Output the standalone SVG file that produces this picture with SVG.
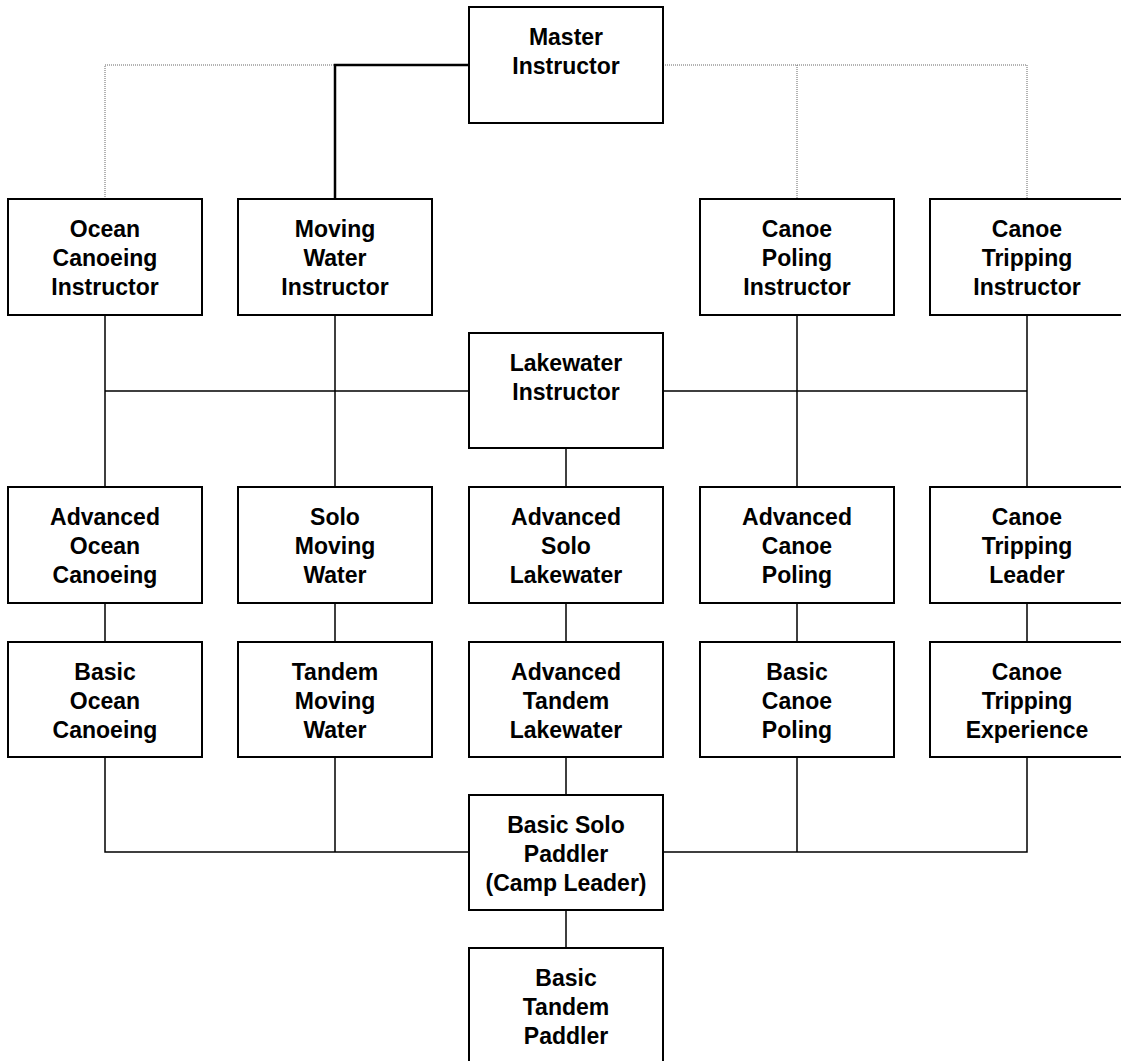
<svg xmlns="http://www.w3.org/2000/svg" width="1121" height="1061" viewBox="0 0 1121 1061">
<style>
.box{fill:#fff;stroke:#000;stroke-width:2}
.t{font-family:"Liberation Sans",Arial,sans-serif;font-weight:bold;font-size:23px;fill:#000;text-anchor:middle}
.c{fill:none;stroke:#000;stroke-width:1.5}
.thick{fill:none;stroke:#000;stroke-width:2.5}
.dot{fill:none;stroke:#666;stroke-width:1;stroke-dasharray:1 1}
</style>
<rect width="1121" height="1061" fill="#fff"/>
<g id="connectors">
<path class="dot" d="M105,199 V65 H469"/>
<path class="dot" d="M663,65 H1027 V199 M797,65 V199"/>
<path class="thick" d="M469,65 H335 V199"/>
<path class="c" d="M105,315 V487 M335,315 V487 M797,315 V487 M1027,315 V487"/>
<path class="c" d="M105,391 H469 M663,391 H1027"/>
<path class="c" d="M566,448 V487"/>
<path class="c" d="M105,603 V642 M335,603 V642 M566,603 V642 M797,603 V642 M1027,603 V642"/>
<path class="c" d="M105,757 V852 H469 M335,757 V852 M663,852 H1027 V757 M797,757 V852"/>
<path class="c" d="M566,757 V795 M566,910 V948"/>
</g>
<g id="master"><rect class="box" x="469" y="7" width="194" height="116"/><text class="t" x="566" y="45">Master</text><text class="t" x="566" y="74">Instructor</text></g>
<g id="ocean-instr"><rect class="box" x="8" y="199" width="194" height="116"/><text class="t" x="105" y="237">Ocean</text><text class="t" x="105" y="266">Canoeing</text><text class="t" x="105" y="295">Instructor</text></g>
<g id="moving-instr"><rect class="box" x="238" y="199" width="194" height="116"/><text class="t" x="335" y="237">Moving</text><text class="t" x="335" y="266">Water</text><text class="t" x="335" y="295">Instructor</text></g>
<g id="poling-instr"><rect class="box" x="700" y="199" width="194" height="116"/><text class="t" x="797" y="237">Canoe</text><text class="t" x="797" y="266">Poling</text><text class="t" x="797" y="295">Instructor</text></g>
<g id="tripping-instr"><rect class="box" x="930" y="199" width="194" height="116"/><text class="t" x="1027" y="237">Canoe</text><text class="t" x="1027" y="266">Tripping</text><text class="t" x="1027" y="295">Instructor</text></g>
<g id="lakewater-instr"><rect class="box" x="469" y="333" width="194" height="115"/><text class="t" x="566" y="371">Lakewater</text><text class="t" x="566" y="400">Instructor</text></g>
<g id="adv-ocean"><rect class="box" x="8" y="487" width="194" height="116"/><text class="t" x="105" y="525">Advanced</text><text class="t" x="105" y="554">Ocean</text><text class="t" x="105" y="583">Canoeing</text></g>
<g id="solo-moving"><rect class="box" x="238" y="487" width="194" height="116"/><text class="t" x="335" y="525">Solo</text><text class="t" x="335" y="554">Moving</text><text class="t" x="335" y="583">Water</text></g>
<g id="adv-solo-lake"><rect class="box" x="469" y="487" width="194" height="116"/><text class="t" x="566" y="525">Advanced</text><text class="t" x="566" y="554">Solo</text><text class="t" x="566" y="583">Lakewater</text></g>
<g id="adv-poling"><rect class="box" x="700" y="487" width="194" height="116"/><text class="t" x="797" y="525">Advanced</text><text class="t" x="797" y="554">Canoe</text><text class="t" x="797" y="583">Poling</text></g>
<g id="tripping-leader"><rect class="box" x="930" y="487" width="194" height="116"/><text class="t" x="1027" y="525">Canoe</text><text class="t" x="1027" y="554">Tripping</text><text class="t" x="1027" y="583">Leader</text></g>
<g id="basic-ocean"><rect class="box" x="8" y="642" width="194" height="115"/><text class="t" x="105" y="680">Basic</text><text class="t" x="105" y="709">Ocean</text><text class="t" x="105" y="738">Canoeing</text></g>
<g id="tandem-moving"><rect class="box" x="238" y="642" width="194" height="115"/><text class="t" x="335" y="680">Tandem</text><text class="t" x="335" y="709">Moving</text><text class="t" x="335" y="738">Water</text></g>
<g id="adv-tandem-lake"><rect class="box" x="469" y="642" width="194" height="115"/><text class="t" x="566" y="680">Advanced</text><text class="t" x="566" y="709">Tandem</text><text class="t" x="566" y="738">Lakewater</text></g>
<g id="basic-poling"><rect class="box" x="700" y="642" width="194" height="115"/><text class="t" x="797" y="680">Basic</text><text class="t" x="797" y="709">Canoe</text><text class="t" x="797" y="738">Poling</text></g>
<g id="tripping-exp"><rect class="box" x="930" y="642" width="194" height="115"/><text class="t" x="1027" y="680">Canoe</text><text class="t" x="1027" y="709">Tripping</text><text class="t" x="1027" y="738">Experience</text></g>
<g id="basic-solo"><rect class="box" x="469" y="795" width="194" height="115"/><text class="t" x="566" y="833">Basic Solo</text><text class="t" x="566" y="862">Paddler</text><text class="t" x="566" y="891">(Camp Leader)</text></g>
<g id="basic-tandem"><rect class="box" x="469" y="948" width="194" height="120"/><text class="t" x="566" y="986">Basic</text><text class="t" x="566" y="1015">Tandem</text><text class="t" x="566" y="1044">Paddler</text></g>
</svg>
